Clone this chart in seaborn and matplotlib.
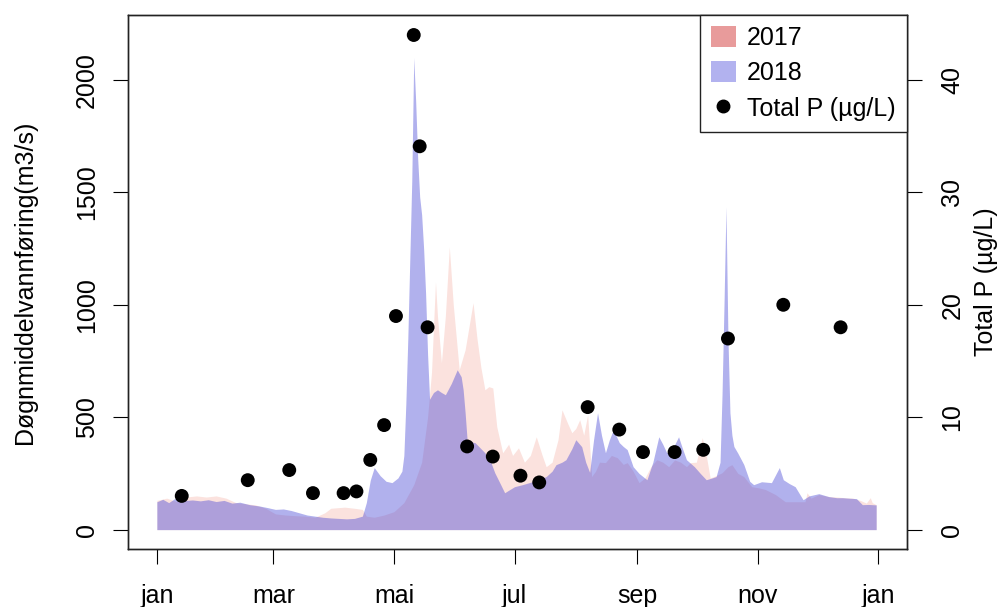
import numpy as np
import matplotlib
matplotlib.use("Agg")
import matplotlib.pyplot as plt
import seaborn as sns
from matplotlib.patches import Patch
from matplotlib.lines import Line2D

# daily discharge (m3/s) at day-of-year positions
day_2017 = [0, 5, 10, 15, 20, 25, 30, 35, 40, 45, 50, 55, 60, 65, 70, 75, 80, 85, 88,
            95, 100, 104, 106, 110, 115, 120, 125, 130, 134, 137, 139, 141, 142, 144,
            146, 148, 150, 153, 156, 160, 162, 164, 166, 168, 170, 172, 175, 178, 180,
            183, 186, 189, 192, 195, 197, 200, 203, 205, 208, 210, 212, 214, 216, 218,
            220, 222, 224, 227, 230, 233, 236, 238, 241, 244, 247, 250, 253, 256, 259,
            262, 265, 268, 270, 273, 276, 278, 280, 283, 286, 289, 291, 294, 297, 301,
            305, 308, 313, 318, 323, 328, 329, 331, 335, 340, 344, 348, 352, 356, 359,
            361, 362, 364]
flow_2017 = [130, 140, 125, 145, 150, 145, 150, 140, 120, 115, 110, 95, 70, 65, 62, 60, 55,
             75, 95, 100, 95, 90, 60, 55, 65, 80, 120, 200, 300, 500, 700, 1102, 950, 742,
             950, 1258, 1000, 711, 800, 1009, 850, 720, 622, 636, 630, 458, 342, 380, 330,
             364, 300, 330, 413, 330, 280, 300, 400, 533, 470, 431, 450, 489, 420, 511,
             236, 260, 300, 298, 330, 320, 290, 298, 260, 209, 230, 280, 311, 300, 280,
             310, 300, 280, 298, 300, 409, 330, 230, 240, 253, 280, 289, 250, 236, 191,
             185, 178, 156, 124, 124, 124, 164, 140, 156, 147, 145, 142, 140, 130, 118,
             142, 120, 111]

day_2018 = [0, 3, 6, 9, 12, 15, 18, 22, 26, 30, 34, 38, 42, 47, 52, 56, 60, 64, 68, 72,
            76, 80, 84, 88, 92, 96, 100, 104, 106, 108, 110, 113, 116, 119, 122, 124, 125,
            126, 127, 128, 129, 130, 131, 132, 133, 134, 135, 136, 137, 138, 140, 142, 144,
            146, 149, 152, 154, 155, 156, 157, 159, 161, 164, 166, 169, 171, 174, 176, 178,
            181, 185, 190, 194, 197, 200, 202, 205, 207, 210, 212, 215, 217, 219, 221, 223,
            225, 227, 229, 231, 234, 236, 238, 241, 244, 248, 251, 254, 256, 258, 261, 264,
            266, 268, 272, 275, 278, 281, 283, 285, 286, 287, 288, 289, 290, 291, 292, 294,
            297, 300, 302, 306, 311, 315, 317, 320, 323, 327, 330, 335, 340, 344, 347, 350,
            354, 357, 360, 364]
flow_2018 = [124, 135, 120, 138, 128, 130, 132, 128, 133, 125, 130, 118, 122, 111, 105, 98,
             90, 92, 85, 75, 65, 60, 55, 52, 50, 48, 50, 60, 120, 220, 276, 240, 215, 209,
             230, 260, 330, 560, 850, 1200, 1550, 2100, 1900, 1650, 1480, 1400, 1250, 1050,
             780, 580, 610, 622, 610, 600, 650, 711, 680, 622, 520, 400, 390, 387, 360, 342,
             300, 253, 200, 164, 175, 191, 200, 213, 225, 236, 260, 289, 300, 311, 360, 400,
             369, 300, 255, 400, 520, 420, 342, 400, 444, 387, 370, 356, 280, 250, 222, 300,
             413, 380, 342, 360, 413, 360, 311, 280, 250, 222, 230, 236, 300, 600, 1000,
             1436, 850, 520, 420, 370, 340, 290, 215, 200, 213, 209, 276, 222, 205, 191, 133,
             150, 160, 147, 142, 142, 140, 138, 111, 112, 110]

# total phosphorus samples (ug/L)
p_day = [12.6, 46, 67, 79, 94.5, 101, 108, 115, 121, 130, 133, 137, 157, 170, 184, 193.5,
         218, 234, 246, 262, 276.5, 289, 317, 346]
total_p = [3.0, 4.4, 5.3, 3.25, 3.25, 3.4, 6.2, 9.3, 19.0, 44.0, 34.1, 18.0, 7.4, 6.5, 4.8,
           4.2, 10.9, 8.9, 6.9, 6.9, 7.1, 17.0, 20.0, 18.0]

month_pos = [0, 59, 120, 181, 243, 304, 365]
month_lab = ["jan", "mar", "mai", "jul", "sep", "nov", "jan"]

sns.set_style("ticks")
plt.rcParams["font.family"] = ["Liberation Sans", "DejaVu Sans"]
plt.rcParams["font.size"] = 18
plt.rcParams["text.color"] = "black"
plt.rcParams["axes.labelcolor"] = "black"
plt.rcParams["xtick.color"] = "black"
plt.rcParams["ytick.color"] = "black"

fig = plt.figure(figsize=(10.07, 6.07), dpi=100)
ax = fig.add_axes([0.1271, 0.0956, 0.7736, 0.8797])

ax.fill_between(day_2017, 0, flow_2017, color="#fbe2de", linewidth=0)
ax.fill_between(day_2018, 0, flow_2018, color=(60/255, 60/255, 212/255), alpha=0.4, linewidth=0)
ax.set_xlim(-14.6, 379.6)
ax.set_ylim(-86, 2289)
ax.set_yticks([0, 500, 1000, 1500, 2000])
ax.set_xticks(month_pos)
ax.set_xticklabels(month_lab)
ax.set_ylabel("Døgnmiddelvannføring(m3/s)", labelpad=27)
for lab in ax.get_yticklabels():
    lab.set_rotation(90)
    lab.set_va("center")

ax2 = ax.twinx()
sns.scatterplot(x=p_day, y=total_p, ax=ax2, color="black", s=100, edgecolor="none", zorder=5)
ax2.set_ylim(-86 / 50, 2289 / 50)
ax2.set_yticks([0, 10, 20, 30, 40])
ax2.set_ylabel("Total P (µg/L)", labelpad=7)
for lab in ax2.get_yticklabels():
    lab.set_rotation(90)
    lab.set_va("center")

for a in (ax, ax2):
    for sp in a.spines.values():
        sp.set_visible(True)
        sp.set_color("#222222")
        sp.set_linewidth(1.0)
    a.tick_params(length=11, width=0.8, colors="black", labelsize=18, pad=10)
    a.grid(False)
ax.tick_params(axis="x", pad=14)
ax2.tick_params(axis="y", pad=13)

handles = [Patch(facecolor="#e89b9b", edgecolor="none"),
           Patch(facecolor="#b2b2ef", edgecolor="none"),
           Line2D([], [], marker="o", color="black", linestyle="none", markersize=9)]
leg = ax2.legend(handles, ["2017", "2018", "Total P (µg/L)"], loc="upper right",
                 bbox_to_anchor=(1, 1), borderaxespad=0, fancybox=False, frameon=True,
                 fontsize=18, handlelength=1.0, handleheight=0.9, handletextpad=0.45,
                 labelspacing=0.45, borderpad=0.45)
leg.get_frame().set_edgecolor("#222222")
leg.get_frame().set_linewidth(1.0)
leg.get_frame().set_alpha(1)

fig.savefig("out.png", dpi=100)
